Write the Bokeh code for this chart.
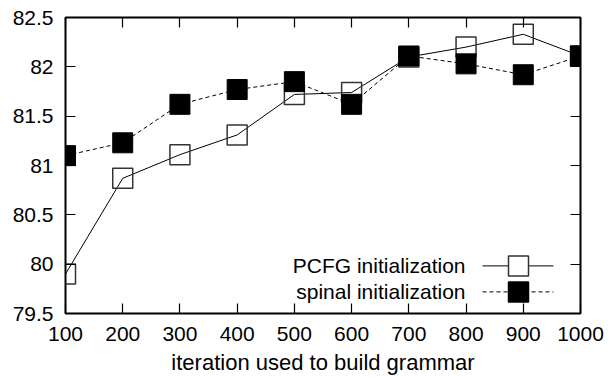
from bokeh.plotting import figure
from bokeh.models import (Label, Arrow, BoxAnnotation, FixedTicker, LinearAxis,
                          NumeralTickFormatter, Range1d, CustomJSTickFormatter)
from bokeh.embed import file_html
from bokeh.resources import INLINE

# ---- data ----
iterations = [100, 200, 300, 400, 500, 600, 700, 800, 900, 1000]
pcfg_init = [79.90, 80.87, 81.11, 81.31, 81.72, 81.74, 82.10, 82.20, 82.33, 82.11]
spinal_init = [81.10, 81.23, 81.62, 81.77, 81.85, 81.62, 82.11, 82.03, 81.92, 82.11]
x_ticks = [100, 200, 300, 400, 500, 600, 700, 800, 900, 1000]
y_ticks = [79.5, 80, 80.5, 81, 81.5, 82, 82.5]
series_names = ["PCFG initialization", "spinal initialization"]
x_label = "iteration used to build grammar"

FONT = "Liberation Sans"

p = figure(width=610, height=377, output_backend="svg", toolbar_location=None,
           x_range=Range1d(100, 1000), y_range=Range1d(79.5, 82.5),
           min_border_left=65, min_border_right=30, min_border_top=17, min_border_bottom=64)
p.xgrid.visible = False
p.ygrid.visible = False
p.outline_line_color = "black"
p.outline_line_width = 2
p.background_fill_color = "white"
p.border_fill_color = "white"

def style_axis(ax, show_labels=True):
    ax.axis_line_color = None
    ax.major_tick_in = 10
    ax.major_tick_out = 0
    ax.minor_tick_line_color = None
    ax.major_tick_line_color = "black"
    ax.major_tick_line_width = 1.2
    ax.major_label_text_font = FONT
    ax.major_label_text_color = "black"
    ax.major_label_text_font_size = "21px"
    if not show_labels:
        ax.formatter = CustomJSTickFormatter(code="return ''")
        ax.major_label_standoff = 0

xax = p.xaxis[0]
yax = p.yaxis[0]
xax.ticker = FixedTicker(ticks=x_ticks)
yax.ticker = FixedTicker(ticks=y_ticks)
yax.formatter = NumeralTickFormatter(format="0.[0]")
style_axis(xax)
style_axis(yax)
xax.major_label_standoff = 13
yax.major_label_standoff = 12
xax.axis_label = x_label
xax.axis_label_text_font = FONT
xax.axis_label_text_font_size = "22px"
xax.axis_label_text_font_style = "normal"
xax.axis_label_text_color = "black"
xax.axis_label_text_line_height = 1.0
xax.axis_label_standoff = 6

rax = LinearAxis(ticker=FixedTicker(ticks=y_ticks))
style_axis(rax, show_labels=False)
p.add_layout(rax, "right")
tax = LinearAxis(ticker=FixedTicker(ticks=x_ticks))
style_axis(tax, show_labels=False)
p.add_layout(tax, "above")

# ---- series ----
p.line(iterations, pcfg_init, line_color="black", line_width=1)
p.scatter(iterations, pcfg_init, marker="square", size=20, fill_color=None,
          line_color="#333333", line_width=1.5)
p.line(iterations, spinal_init, line_color="black", line_width=1, line_dash="4 3")
p.scatter(iterations, spinal_init, marker="square", size=20, fill_color="black",
          line_color="black")

# ---- legend (gnuplot style: text right, sample on the right) ----
rows_y = [47.6, 21.6]
text_right = 400
line_x0, line_x1 = 417, 488
sq_c, sq_half = 453, 10
dashes = ["solid", "4 3"]
fills = ["white", "black"]
for name, ry, dash, fill in zip(series_names, rows_y, dashes, fills):
    p.add_layout(Label(x=text_right, y=ry, x_units="screen", y_units="screen",
                       text=name, text_align="right", text_baseline="middle",
                       text_font=FONT, text_font_size="21px", text_color="black"))
    p.add_layout(Arrow(end=None, start=None, x_start=line_x0, y_start=ry,
                       x_end=line_x1, y_end=ry, start_units="screen", end_units="screen",
                       line_color="black", line_width=1, line_dash=dash))
    p.add_layout(BoxAnnotation(left=sq_c - sq_half, right=sq_c + sq_half,
                               bottom=ry - sq_half, top=ry + sq_half,
                               left_units="screen", right_units="screen",
                               top_units="screen", bottom_units="screen",
                               fill_color=fill, fill_alpha=1.0,
                               line_color="#333333" if fill == "white" else "black",
                               line_width=1.5, line_alpha=1.0))

open("out.html", "w").write(file_html(p, INLINE))
